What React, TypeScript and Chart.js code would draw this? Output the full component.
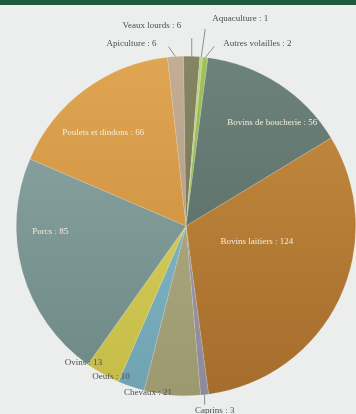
import React, { useEffect, useRef } from "react";
import { Chart, registerables } from "chart.js";

Chart.register(...registerables);

const categories = [
  "Apiculture",
  "Veaux lourds",
  "Aquaculture",
  "Autres volailles",
  "Bovins de boucherie",
  "Bovins laitiers",
  "Caprins",
  "Chevaux",
  "Oeufs",
  "Ovins",
  "Porcs",
  "Poulets et dindons",
];
const values = [6, 6, 1, 2, 56, 124, 3, 21, 10, 13, 85, 66];

const topColors = ["#c2ad95", "#858463", "#bcd383", "#a0c25c", "#6e827c", "#c68d40", "#a39fb0", "#b4b085", "#8cc0cc", "#dcd462", "#8fa9a6", "#dfa552"];
const bottomColors = ["#ab967c", "#707050", "#a5bd6c", "#88a948", "#52655f", "#a56c2c", "#8d8a9a", "#9c9870", "#6fa3b2", "#c6bc48", "#6c8784", "#c48a3a"];

// label placement style: inside?, radius fraction, nudge, leader
const labelStyle: Record<number, { inside: boolean; f: number; dx: number; dy: number; lx?: number; ly?: number }> = {
  0: { inside: false, f: 1, dx: -44, dy: -13, lx: -7, ly: -10 },
  1: { inside: false, f: 1, dx: -40, dy: -31, lx: 0, ly: -18 },
  2: { inside: false, f: 1, dx: 39, dy: -38, lx: 4, ly: -28 },
  3: { inside: false, f: 1, dx: 52, dy: -14, lx: 9, ly: -11 },
  4: { inside: true, f: 0.79, dx: 13, dy: 9 },
  5: { inside: true, f: 0.45, dx: 2, dy: -17 },
  6: { inside: false, f: 1, dx: 10, dy: 16, lx: 0, ly: 10 },
  7: { inside: false, f: 1, dx: -24, dy: -3 },
  8: { inside: false, f: 1, dx: -20, dy: -10 },
  9: { inside: false, f: 1, dx: -19, dy: -11 },
  10: { inside: true, f: 0.8, dx: -5, dy: -31 },
  11: { inside: true, f: 0.7, dx: -12, dy: 2 },
};

const labelPlugin = {
  id: "pieLabels",
  afterDatasetsDraw(chart: any) {
    const ctx = chart.ctx;
    const meta = chart.getDatasetMeta(0);
    ctx.save();
    ctx.font = '9px "Liberation Serif", serif';
    ctx.textAlign = "center";
    ctx.textBaseline = "middle";
    meta.data.forEach((arc: any, i: number) => {
      const p = arc.getProps(["x", "y", "startAngle", "endAngle", "outerRadius"], true);
      const mid = (p.startAngle + p.endAngle) / 2;
      const s = labelStyle[i];
      const ax = p.x + Math.cos(mid) * p.outerRadius * s.f;
      const ay = p.y + Math.sin(mid) * p.outerRadius * s.f;
      const text = categories[i] + " : " + values[i];
      if (s.lx !== undefined && s.ly !== undefined) {
        ctx.strokeStyle = "#8c8c8c";
        ctx.lineWidth = 1;
        ctx.beginPath();
        ctx.moveTo(ax, ay);
        ctx.lineTo(ax + s.lx, ay + s.ly);
        ctx.stroke();
      }
      ctx.fillStyle = s.inside ? "#f4ecdc" : "#4d4f4f";
      ctx.fillText(text, ax + s.dx, ay + s.dy);
    });
    ctx.restore();
  },
};

export default function App() {
  const ref = useRef<HTMLCanvasElement>(null);
  useEffect(() => {
    document.body.style.margin = "0";
    const canvas = ref.current!;
    const chart = new Chart(canvas, {
      type: "pie",
      data: {
        labels: categories,
        datasets: [
          {
            data: values,
            backgroundColor: (c: any) => {
              const area = c.chart.chartArea;
              const i = c.dataIndex;
              if (!area) return topColors[i];
              const g = c.chart.ctx.createLinearGradient(0, area.top, 0, area.bottom);
              g.addColorStop(0, topColors[i]);
              g.addColorStop(1, bottomColors[i]);
              return g;
            },
            borderWidth: 0.5,
            borderColor: "rgba(255,255,255,0.25)",
          },
        ],
      },
      options: {
        responsive: false,
        maintainAspectRatio: false,
        animation: false,
        rotation: -6.3,
        layout: { padding: { left: 16, right: 0, top: 56, bottom: 18 } },
        plugins: { legend: { display: false }, tooltip: { enabled: false } },
      },
      plugins: [labelPlugin],
    });
    return () => chart.destroy();
  }, []);
  return (
    <div style={{ position: "relative", width: 356, height: 414, background: "#eceeed", overflow: "hidden" }}>
      <div style={{ position: "absolute", left: 0, top: 0, width: 356, height: 5, background: "#1d5b3f" }} />
      <canvas ref={ref} width={356} height={414} style={{ position: "absolute", left: 0, top: 0 }} />
    </div>
  );
}
